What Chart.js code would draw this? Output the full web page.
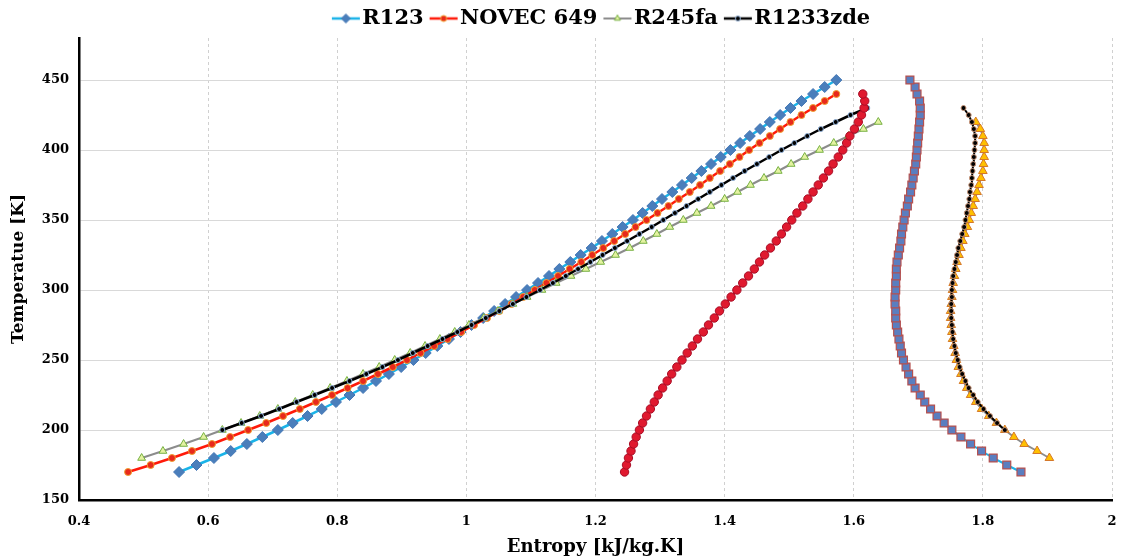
<!DOCTYPE html>
<html><head><meta charset="utf-8">
<script src="https://cdn.jsdelivr.net/npm/chart.js@4.4.1/dist/chart.umd.min.js"></script>
<style>html,body{margin:0;padding:0;background:#fff;}#wrap{width:1123px;height:559px;}</style>
</head><body><div id="wrap"><canvas id="c" width="1123" height="559"></canvas></div>
<script>
// ---------- data ----------
const seriesNames = ['R123', 'NOVEC 649', 'R245fa', 'R1233zde'];
const xTicks = [0.4, 0.6, 0.8, 1.0, 1.2, 1.4, 1.6, 1.8, 2.0];
const yTicks = [150, 200, 250, 300, 350, 400, 450];

const T_R123 = [170,175,180,185,190,195,200,205,210,215,220,225,230,235,240,245,250,255,260,265,270,275,280,285,290,295,300,305,310,315,320,325,330,335,340,345,350,355,360,365,370,375,380,385,390,395,400,405,410,415,420,425,430,435,440,445,450];
const T_NOVEC = [170,175,180,185,190,195,200,205,210,215,220,225,230,235,240,245,250,255,260,265,270,275,280,285,290,295,300,305,310,315,320,325,330,335,340,345,350,355,360,365,370,375,380,385,390,395,400,405,410,415,420,425,430,435,440];
const T_R245fa = [180,185,190,195,200,205,210,215,220,225,230,235,240,245,250,255,260,265,270,275,280,285,290,295,300,305,310,315,320,325,330,335,340,345,350,355,360,365,370,375,380,385,390,395,400,405,410,415,420];
const T_R1233zde = [200,205,210,215,220,225,230,235,240,245,250,255,260,265,270,275,280,285,290,295,300,305,310,315,320,325,330,335,340,345,350,355,360,365,370,375,380,385,390,395,400,405,410,415,420,425,430];

// saturated liquid entropy [kJ/kg.K]
const sLiq_R123 = [0.555,0.582,0.609,0.635,0.660,0.684,0.708,0.731,0.754,0.776,0.798,0.819,0.840,0.860,0.880,0.899,0.918,0.937,0.955,0.973,0.991,1.008,1.026,1.043,1.060,1.077,1.094,1.111,1.128,1.144,1.161,1.177,1.194,1.210,1.226,1.242,1.258,1.273,1.288,1.303,1.319,1.334,1.349,1.364,1.379,1.394,1.409,1.424,1.439,1.455,1.470,1.486,1.502,1.519,1.537,1.555,1.573];
const sLiq_NOVEC = [0.476,0.511,0.544,0.575,0.606,0.634,0.662,0.690,0.716,0.742,0.767,0.792,0.816,0.840,0.863,0.886,0.908,0.929,0.950,0.971,0.992,1.012,1.032,1.051,1.070,1.088,1.106,1.124,1.142,1.160,1.178,1.195,1.212,1.229,1.246,1.262,1.279,1.296,1.313,1.329,1.346,1.362,1.377,1.393,1.408,1.423,1.438,1.454,1.470,1.486,1.502,1.519,1.537,1.555,1.573];
const sLiq_R245fa = [0.497,0.530,0.562,0.593,0.622,0.651,0.680,0.708,0.735,0.762,0.789,0.815,0.840,0.865,0.889,0.913,0.936,0.959,0.982,1.004,1.027,1.049,1.072,1.094,1.117,1.139,1.162,1.185,1.208,1.231,1.253,1.274,1.295,1.315,1.336,1.357,1.379,1.400,1.420,1.440,1.461,1.483,1.503,1.524,1.547,1.569,1.592,1.615,1.638];
const sLiq_R1233zde = [0.622,0.652,0.682,0.710,0.737,0.765,0.792,0.819,0.845,0.870,0.894,0.917,0.940,0.963,0.986,1.008,1.030,1.051,1.072,1.093,1.114,1.134,1.154,1.173,1.192,1.211,1.230,1.249,1.268,1.287,1.305,1.323,1.341,1.359,1.377,1.395,1.413,1.431,1.450,1.469,1.488,1.508,1.528,1.549,1.572,1.595,1.621];

// saturated vapour entropy [kJ/kg.K]
const sVap_NOVEC = [1.245,1.248,1.251,1.255,1.259,1.263,1.268,1.273,1.279,1.285,1.291,1.297,1.304,1.311,1.318,1.326,1.334,1.342,1.350,1.358,1.367,1.375,1.384,1.392,1.401,1.410,1.419,1.428,1.437,1.446,1.454,1.462,1.471,1.480,1.488,1.496,1.504,1.512,1.521,1.529,1.537,1.545,1.553,1.561,1.568,1.576,1.583,1.589,1.594,1.601,1.607,1.612,1.616,1.617,1.614];
const sVap_R123 = [1.859,1.837,1.816,1.798,1.781,1.766,1.752,1.740,1.729,1.719,1.710,1.703,1.695,1.690,1.685,1.681,1.677,1.674,1.672,1.670,1.668,1.666,1.665,1.665,1.664,1.664,1.665,1.665,1.666,1.666,1.667,1.669,1.671,1.673,1.674,1.676,1.678,1.680,1.683,1.685,1.688,1.690,1.692,1.694,1.696,1.697,1.698,1.699,1.700,1.701,1.702,1.703,1.703,1.702,1.698,1.695,1.687];
const sVap_R245fa = [1.903,1.884,1.864,1.848,1.834,1.821,1.809,1.798,1.789,1.781,1.775,1.770,1.766,1.762,1.759,1.757,1.755,1.753,1.752,1.751,1.750,1.750,1.751,1.752,1.753,1.754,1.756,1.758,1.760,1.763,1.766,1.769,1.772,1.776,1.779,1.782,1.785,1.788,1.791,1.794,1.797,1.800,1.801,1.802,1.802,1.802,1.800,1.796,1.789];
const sVap_R1233zde = [1.834,1.822,1.811,1.801,1.792,1.785,1.778,1.773,1.768,1.764,1.761,1.758,1.756,1.754,1.753,1.752,1.751,1.751,1.751,1.752,1.752,1.753,1.754,1.756,1.758,1.760,1.762,1.765,1.768,1.771,1.773,1.775,1.777,1.779,1.780,1.782,1.783,1.784,1.785,1.786,1.787,1.788,1.788,1.786,1.783,1.778,1.770];

// ---------- styles ----------
const FONT = "'DejaVu Serif', 'Liberation Serif', serif";
const styles = [
  {line:'#1ab3e8', lw:2.5, ps:'rectRot', r:5.5, bg:'#4a7ebb', bd:'#4477b5', bw:1, lr:4.5},
  {line:'#ff1a0a', lw:2.5, ps:'circle', r:3.5, bg:'#e8291c', bd:'#f0a030', bw:1, lr:3},
  {line:'#8c8c8c', lw:2, ps:'triangle', r:4.5, bg:'#e4f2a0', bd:'#76b041', bw:1, lr:3.5},
  {line:'#000000', lw:2.5, ps:'circle', r:2.5, bg:'#000000', bd:'#90b0d8', bw:1, lr:2.5},
  {line:'#c8102e', lw:2, ps:'circle', r:4.2, bg:'#e0192f', bd:'#a80e26', bw:1},
  {line:'#1ab3e8', lw:2, ps:'rect', r:5.6, bg:'#5a7ec0', bd:'#b5504f', bw:1.2},
  {line:'#8c8c8c', lw:2, ps:'triangle', r:5, bg:'#ffc000', bd:'#d4782a', bw:1},
  {line:'#000000', lw:2, ps:'circle', r:2.5, bg:'#000000', bd:'#c8967a', bw:1}
];
const seriesData = [
  [T_R123, sLiq_R123], [T_NOVEC, sLiq_NOVEC], [T_R245fa, sLiq_R245fa], [T_R1233zde, sLiq_R1233zde],
  [T_NOVEC, sVap_NOVEC], [T_R123, sVap_R123], [T_R245fa, sVap_R245fa], [T_R1233zde, sVap_R1233zde]
];

const datasets = seriesData.map((pair, i) => {
  const st = styles[i];
  return {
    label: i < 4 ? seriesNames[i] : seriesNames[[1,0,2,3][i-4]] + ' vapour',
    data: pair[0].map((t, k) => ({x: pair[1][k], y: t})),
    showLine: true, fill: false, tension: 0,
    borderColor: st.line, borderWidth: st.lw,
    pointStyle: st.ps, pointRadius: st.r, pointHoverRadius: st.r,
    pointBackgroundColor: st.bg, pointBorderColor: st.bd, pointBorderWidth: st.bw,
    order: 8 - i
  };
});

function drawShape(g, ps, x, y, r) {
  g.beginPath();
  if (ps === 'circle') { g.arc(x, y, r, 0, Math.PI*2); }
  else if (ps === 'rectRot') { g.moveTo(x-r, y); g.lineTo(x, y-r); g.lineTo(x+r, y); g.lineTo(x, y+r); g.closePath(); }
  else if (ps === 'triangle') { g.moveTo(x - r*0.866, y + r*0.5); g.lineTo(x + r*0.866, y + r*0.5); g.lineTo(x, y - r); g.closePath(); }
  else { const s = r*0.707; g.rect(x-s, y-s, 2*s, 2*s); }
}
// legend icon: 40px canvas, visible line+marker in x = 10..38
function makeIcon(st) {
  const c = document.createElement('canvas'); c.width = 40; c.height = 14;
  const g = c.getContext('2d');
  g.strokeStyle = st.line; g.lineWidth = st.lw;
  g.beginPath(); g.moveTo(10, 7); g.lineTo(38, 7); g.stroke();
  drawShape(g, st.ps, 24, 7, st.lr);
  g.fillStyle = st.bg; g.fill();
  g.strokeStyle = st.bd; g.lineWidth = st.bw; g.stroke();
  return c;
}
const icons = [0,1,2,3].map(i => makeIcon(styles[i]));

const shiftLegend = {
  id: 'shiftLegend',
  afterLayout(chart) {
    const lg = chart.legend; if (!lg) return;
    const dx = 45, dy = 1;
    lg.left += dx; lg.right += dx; lg.top += dy; lg.bottom += dy;
    if (lg.legendHitBoxes) lg.legendHitBoxes.forEach(h => { h.left += dx; h.top += dy; });
  }
};

new Chart(document.getElementById('c'), {
  type: 'scatter',
  data: { datasets },
  plugins: [shiftLegend],
  options: {
    responsive: false, animation: false, devicePixelRatio: 1,
    layout: { padding: { left: 0, right: 11, top: 1, bottom: 0 } },
    plugins: {
      tooltip: { enabled: false },
      legend: {
        position: 'top',
        labels: {
          usePointStyle: true, pointStyleWidth: 20, padding: 6, color: '#000',
          font: { family: FONT, size: 21, weight: 'bold' },
          generateLabels: () => seriesNames.map((n, i) => ({
            text: n, datasetIndex: i, hidden: false, pointStyle: icons[i],
            fillStyle: styles[i].bg, strokeStyle: styles[i].line, lineWidth: 0, fontColor: '#000'
          }))
        }
      }
    },
    scales: {
      x: {
        type: 'linear', min: 0.4, max: 2,
        afterBuildTicks: s => { s.ticks = xTicks.map(v => ({ value: v })); },
        afterFit: s => { s.height = 59; s.paddingRight = 0; s.paddingLeft = 0; },
        ticks: { color: '#000', padding: 14, font: { family: FONT, size: 13, weight: 'bold' },
                 callback: v => String(Math.round(v * 10) / 10) },
        grid: { color: '#d0d0d0', lineWidth: 1, drawTicks: false },
        border: { color: '#000', width: 2.5, dash: [3, 3] },
        title: { display: true, text: 'Entropy [kJ/kg.K]', color: '#000',
                 font: { family: FONT, size: 18, weight: 'bold' }, padding: { top: 2, bottom: 1 } }
      },
      y: {
        type: 'linear', min: 150, max: 480,
        afterBuildTicks: s => { s.ticks = yTicks.map(v => ({ value: v })); },
        afterFit: s => { s.width = 79; s.paddingTop = 0; s.paddingBottom = 0; },
        ticks: { color: '#000', padding: 10, font: { family: FONT, size: 13, weight: 'bold' },
                 callback: v => String(v) },
        grid: { color: '#d9d9d9', lineWidth: 1, drawTicks: false },
        border: { color: '#000', width: 2.5 },
        title: { display: true, text: 'Temperatue [K]', color: '#000',
                 font: { family: FONT, size: 17, weight: 'bold' }, padding: { top: 8, bottom: 2 } }
      }
    }
  }
});
</script>
</body></html>
